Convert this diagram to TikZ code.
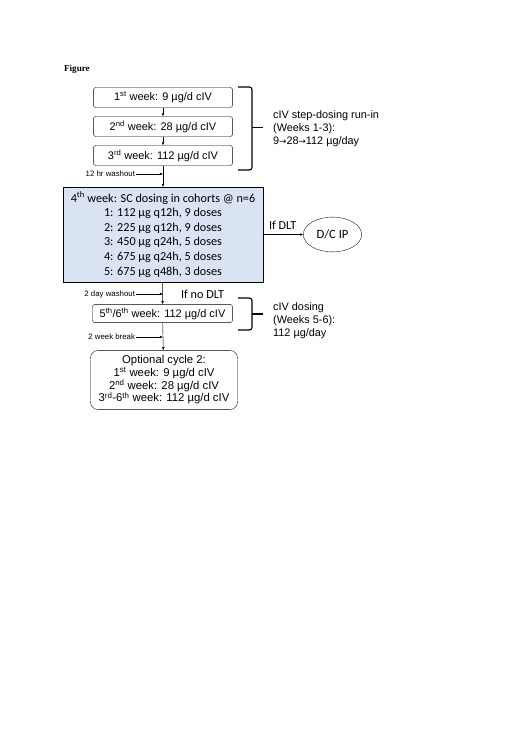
\documentclass[tikz,border=0pt]{standalone}
\usepackage{fontspec}
\setmainfont{Liberation Sans}
\newfontfamily\calfont{Carlito}
\newfontfamily\capfont{Liberation Serif}
\newfontfamily\symfont{DejaVu Sans}
\usetikzlibrary{arrows.meta,shapes.geometric}
\definecolor{Ink}{HTML}{000000}
\definecolor{CohortFill}{HTML}{DAE3F3}
\newcommand{\sups}[1]{\textsuperscript{#1}}
\newcommand{\steparrow}{{\symfont\fontsize{10}{12}\selectfont →}}

\begin{document}
\begin{tikzpicture}[x=0.04037cm,y=-0.04037cm,>={Latex[length=3.5pt,width=3pt]},every node/.style={text=Ink}]
  \useasboundingbox[fill=white] (0,0) rectangle (520,735);
  \tikzset{
    weekbox/.style={draw,rounded corners=3pt,minimum width=160pt,minimum height=23pt,inner sep=0pt,font=\fontsize{12.6}{15}\selectfont},
    cohortbox/.style={draw,fill=CohortFill,minimum width=229pt,minimum height=109pt,inner sep=0pt,align=center,font=\calfont\fontsize{14}{16.7}\selectfont},
    notelabel/.style={anchor=east,font=\fontsize{9}{10}\selectfont,inner sep=1pt},
    sidelabel/.style={anchor=west,align=left,font=\fontsize{12.5}{15}\selectfont,inner sep=0pt},
    flow/.style={->,line width=0.5pt},
    bracket/.style={line width=1.3pt,rounded corners=3pt}
  }

  \node[anchor=west,font=\capfont\bfseries\fontsize{10.5}{12}\selectfont] (title) at (61,69) {Figure};

  \node[weekbox] (w1) at (163,97.5) {1\sups{st} week: 9 µg/d cIV};
  \node[weekbox] (w2) at (163,126.5) {2\sups{nd} week: 28 µg/d cIV};
  \node[weekbox] (w3) at (163,155.5) {3\sups{rd} week: 112 µg/d cIV};
  \draw[flow] (w1) -- (w2);
  \draw[flow] (w2) -- (w3);

  \draw[bracket] (238,87) -- (252,87) -- (252,170) -- (238,170);
  \draw[bracket] (252,127.5) -- (263,127.5);
  \node[sidelabel] (runin) at (273,129) {cIV step-dosing run-in\\(Weeks 1-3):\\9\steparrow28\steparrow112 µg/day};

  \node[cohortbox] (sc) at (163,234.5) {4\sups{th} week: SC dosing in cohorts @ n=6\\
    1: 112 µg q12h, 9 doses\\
    2: 225 µg q12h, 9 doses\\
    3: 450 µg q24h, 5 doses\\
    4: 675 µg q24h, 5 doses\\
    5: 675 µg q48h, 3 doses};
  \draw[flow] (w3) -- (sc);
  \coordinate (wash1) at (163,174);
  \node[notelabel] (wash1txt) at (136,174) {12 hr washout};
  \draw[flow] (wash1txt) -- (wash1);

  \node[draw,ellipse,minimum width=67pt,minimum height=40pt,inner sep=0pt,font=\calfont\fontsize{14.5}{16}\selectfont] (dcip) at (332.5,234.5) {D/C IP};
  \draw[flow] (sc.east |- dcip) -- (dcip);
  \node[anchor=west,font=\calfont\fontsize{14}{16}\selectfont,inner sep=0pt] (ifdlt) at (269,225) {If DLT};

  \node[weekbox,minimum width=161pt,minimum height=21pt] (w56) at (162.5,313.5) {5\sups{th}/6\sups{th} week: 112 µg/d cIV};
  \draw[flow] (sc) -- (w56);
  \coordinate (wash2) at (163,294);
  \node[notelabel] (wash2txt) at (136,294) {2 day washout};
  \draw[flow] (wash2txt) -- (wash2);
  \node[anchor=west,font=\calfont\fontsize{14}{16}\selectfont,inner sep=0pt] (nodlt) at (181,294) {If no DLT};

  \draw[bracket] (238,298) -- (252,298) -- (252,330) -- (238,330);
  \draw[bracket] (252,314) -- (263,314);
  \node[sidelabel] (maint) at (273,321) {cIV dosing\\(Weeks 5-6):\\112 µg/day};

  \node[weekbox,rounded corners=9pt,minimum width=169pt,minimum height=68pt,align=center,font=\fontsize{13}{14.6}\selectfont] (opt) at (164,380) {Optional cycle 2:\\
    1\sups{st} week: 9 µg/d cIV\\
    2\sups{nd} week: 28 µg/d cIV\\
    3\sups{rd}-6\sups{th} week: 112 µg/d cIV};
  \draw[flow] (w56) -- (opt);
  \coordinate (brk) at (163,337);
  \node[notelabel] (brktxt) at (136,337) {2 week break};
  \draw[flow] (brktxt) -- (brk);
\end{tikzpicture}
\end{document}
